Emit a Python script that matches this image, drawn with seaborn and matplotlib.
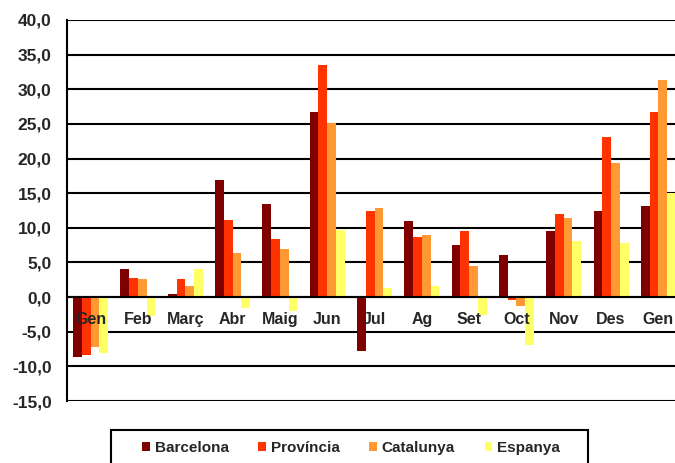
import matplotlib
matplotlib.use('Agg')
import matplotlib.pyplot as plt
from matplotlib.patches import Rectangle
from matplotlib.ticker import FuncFormatter, MultipleLocator
import numpy as np
import pandas as pd
import seaborn as sns

# values
months = ['Gen', 'Feb', 'Març', 'Abr', 'Maig', 'Jun', 'Jul', 'Ag', 'Set', 'Oct', 'Nov', 'Des', 'Gen']
series = ['Barcelona', 'Província', 'Catalunya', 'Espanya']
barcelona = [-8.6, 4.0, 0.5, 16.9, 13.4, 26.7, -7.8, 11.0, 7.5, 6.1, 9.6, 12.5, 13.1]
provincia = [-8.4, 2.8, 2.6, 11.1, 8.4, 33.5, 12.5, 8.7, 9.5, -0.4, 12.0, 23.1, 26.7]
catalunya = [-7.2, 2.6, 1.6, 6.3, 6.9, 25.1, 12.8, 9.0, 4.5, -1.3, 11.4, 19.3, 31.4]
espanya = [-8.1, -2.7, 4.0, -1.6, -2.0, 9.7, 1.3, 1.6, -2.6, -6.9, 8.1, 7.8, 15.0]
colors = ['#800000', '#FF3300', '#FF9933', '#FFFF66']

rows = []
for name, vals in zip(series, [barcelona, provincia, catalunya, espanya]):
    for i, v in enumerate(vals):
        rows.append({'pos': i, 'serie': name, 'valor': v})
df = pd.DataFrame(rows)

sns.set_style('white')
plt.rcParams['font.family'] = ['Liberation Sans', 'DejaVu Sans']

fig = plt.figure(figsize=(6.75, 4.63), dpi=100)
ax = fig.add_axes([67 / 675, 1 - 401 / 463, 615 / 675, 381 / 463])

sns.barplot(data=df, x='pos', y='valor', hue='serie', hue_order=series,
            palette=colors, width=0.74, saturation=1, ax=ax, errorbar=None,
            linewidth=0)

ax.set_ylim(-15, 40)
ax.set_xlim(-0.5, 12.5)
ax.yaxis.set_major_locator(MultipleLocator(5))
ax.yaxis.set_major_formatter(FuncFormatter(lambda v, p: f'{v:.1f}'.replace('.', ',')))
ax.set_axisbelow(True)
ax.yaxis.grid(True, color='black', lw=1.5)
ax.xaxis.set_zorder(3)

for s in ['top', 'right']:
    ax.spines[s].set_visible(False)
ax.spines['left'].set_color('black')
ax.spines['left'].set_linewidth(1.5)
ax.spines['bottom'].set_position(('data', 0))
ax.spines['bottom'].set_color('black')
ax.spines['bottom'].set_linewidth(1.5)

ax.set_xticks(range(len(months)))
ax.set_xticklabels(months, fontsize=11.5, fontweight='bold')
ax.set_xticks(np.arange(0.5, len(months) - 0.5, 1), minor=True)
ax.tick_params(axis='x', which='major', length=0, pad=11)
ax.tick_params(axis='x', which='minor', length=4, width=1.5, color='black', direction='out')
ax.tick_params(axis='y', length=4, width=1.5, color='black', direction='out', pad=7)
for t in ax.get_yticklabels():
    t.set_fontsize(12.5)
    t.set_fontweight('bold')
ax.set_xlabel('')
ax.set_ylabel('')

handles, labels = ax.get_legend_handles_labels()
ax.get_legend().remove()
leg = fig.legend(handles, labels, loc='center', ncol=4,
                 bbox_to_anchor=(351 / 675, 1 - 448 / 463),
                 frameon=False, prop={'size': 11, 'weight': 'bold'},
                 handlelength=0.5, handleheight=0.5, handletextpad=0.3,
                 columnspacing=1.95, borderpad=0, borderaxespad=0)
fig.patches.append(Rectangle((111 / 675, -0.05), 477 / 675, 1 - 430 / 463 + 0.05,
                             transform=fig.transFigure, fill=False,
                             edgecolor='black', lw=1.5))

fig.savefig('out.png', dpi=100, facecolor='white')
